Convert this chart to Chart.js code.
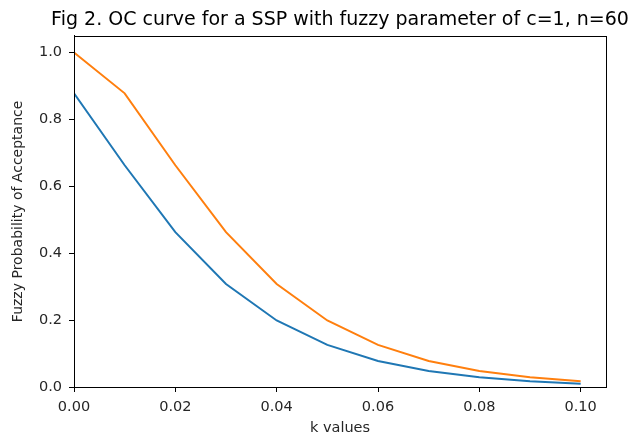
<!DOCTYPE html>
<html>
<head>
<meta charset="utf-8">
<script src="https://cdn.jsdelivr.net/npm/chart.js@4/dist/chart.umd.min.js"></script>
<style>
  html, body { margin: 0; padding: 0; background: #fff; }
  #chart { display: block; }
</style>
</head>
<body>
<canvas id="chart" width="628" height="437"></canvas>
<script>
const kValues = [0.00, 0.01, 0.02, 0.03, 0.04, 0.05, 0.06, 0.07, 0.08, 0.09, 0.10];
const lowerPa = [0.878, 0.663, 0.463, 0.308, 0.199, 0.126, 0.078, 0.048, 0.029, 0.017, 0.010];
const upperPa = [1.000, 0.878, 0.663, 0.463, 0.308, 0.199, 0.126, 0.078, 0.048, 0.029, 0.017];
const xTicks = [0, 0.02, 0.04, 0.06, 0.08, 0.10];
const yTicks = [0, 0.2, 0.4, 0.6, 0.8, 1.0];

const toPoints = (ys) => kValues.map((k, i) => ({ x: k, y: ys[i] }));

// full frame round the plot area, like matplotlib's spines
const frame = {
    id: 'frame',
    afterLayout(chart) {
        // title is centred over the axes but may run past them
        const a = chart.chartArea;
        const half = 290;
        const mid = (a.left + a.right) / 2;
        chart.titleBlock.left = mid - half;
        chart.titleBlock.right = mid + half;
    },
    afterDraw(chart) {
        const a = chart.chartArea;
        const c = chart.ctx;
        c.save();
        c.strokeStyle = '#000';
        c.lineWidth = 1;
        c.strokeRect(Math.round(a.left) + 0.5, Math.round(a.top) + 0.5,
            Math.round(a.right - a.left), Math.round(a.bottom - a.top));
        c.restore();
    }
};

Chart.defaults.font.family = '"DejaVu Sans", sans-serif';
Chart.defaults.color = '#262626';

new Chart(document.getElementById('chart'), {
    type: 'line',
    data: {
        datasets: [{
            label: 'lower',
            data: toPoints(lowerPa),
            borderColor: '#1f77b4',
            borderWidth: 2,
            pointRadius: 0,
            tension: 0
        }, {
            label: 'upper',
            data: toPoints(upperPa),
            borderColor: '#ff7f0e',
            borderWidth: 2,
            pointRadius: 0,
            tension: 0
        }]
    },
    plugins: [frame],
    options: {
        responsive: false,
        animation: false,
        layout: { padding: { left: 0, right: 22, top: 0, bottom: 0 } },
        plugins: {
            legend: { display: false },
            tooltip: { enabled: false },
            title: {
                display: true,
                text: 'Fig 2. OC curve for a SSP with fuzzy parameter of c=1, n=60',
                color: '#000',
                font: { size: 19, weight: 'normal' },
                padding: { top: 9, bottom: 4 }
            }
        },
        scales: {
            x: {
                type: 'linear',
                min: 0,
                max: 0.105,
                afterFit(s) { s.height = 50; },
                afterBuildTicks(s) {
                    s.ticks = xTicks.map(v => ({ value: v }));
                },
                ticks: {
                    callback: v => v.toFixed(2),
                    font: { size: 14.5 },
                    color: '#262626',
                    padding: 7
                },
                grid: { drawOnChartArea: false, tickLength: 5, color: '#000' },
                border: { color: '#000' },
                title: {
                    display: true,
                    text: 'k values',
                    font: { size: 14.5 },
                    color: '#262626',
                    padding: { top: 2, bottom: 0 }
                }
            },
            y: {
                min: 0,
                max: 1.05,
                afterFit(s) { s.width = 74; },
                afterBuildTicks(s) {
                    s.ticks = yTicks.map(v => ({ value: v }));
                },
                ticks: {
                    callback: v => v.toFixed(1),
                    font: { size: 14.5 },
                    color: '#262626',
                    padding: 7
                },
                grid: { drawOnChartArea: false, tickLength: 5, color: '#000' },
                border: { color: '#000' },
                title: {
                    display: true,
                    text: 'Fuzzy Probability of Acceptance',
                    font: { size: 14 },
                    color: '#262626',
                    padding: { top: 10, bottom: 0 }
                }
            }
        }
    }
});
</script>
</body>
</html>
